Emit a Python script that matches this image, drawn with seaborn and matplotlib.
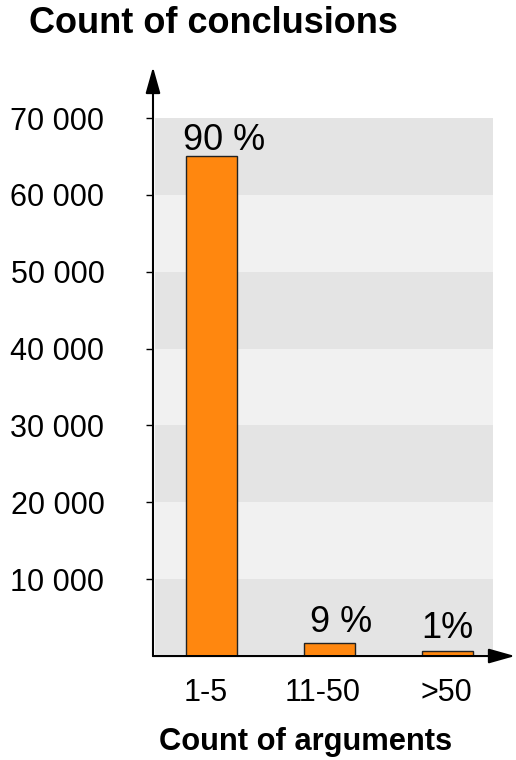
import matplotlib
matplotlib.use("Agg")
import matplotlib.pyplot as plt
import matplotlib.transforms as mtransforms
import seaborn as sns

# data
categories = ["1-5", "11-50", ">50"]
counts = [65000, 1700, 600]
shares = ["90 %", "9 %", "1%"]
y_ticks = [10000, 20000, 30000, 40000, 50000, 60000, 70000]
y_tick_labels = ["10 000", "20 000", "30 000", "40 000", "50 000", "60 000", "70 000"]

sns.set_theme(style="white")
plt.rcParams["font.family"] = ["Liberation Sans", "DejaVu Sans"]
plt.rcParams["text.color"] = "black"

fig = plt.figure(figsize=(5.16, 7.6), dpi=100)
ax = fig.add_axes([0.2965, 0.1368, 0.7015, 0.775])

# alternating grey bands behind the bars
for i in range(len(y_ticks)):
    ax.axhspan(i * 10000, (i + 1) * 10000, xmin=0.005, xmax=0.939,
               color="#e4e4e4" if i % 2 == 0 else "#f1f1f1", zorder=0.5, lw=0)

sns.barplot(x=categories, y=counts, color="#ff870f", saturation=1, width=0.43,
            edgecolor="#222222", linewidth=1, ax=ax, zorder=2)

# percentage labels above bars (offsets in points)
label_offsets = [(9, 5), (8, 8), (0, 10)]
for i, (v, s) in enumerate(zip(counts, shares)):
    ax.annotate(s, xy=(i, v), xytext=label_offsets[i],
                textcoords="offset points", ha="center", va="baseline",
                fontsize=26, color="black")

ax.set_xlim(-0.496, 2.572)
ax.set_ylim(0, 76640)
ax.set_yticks(y_ticks)
ax.set_yticklabels(y_tick_labels)
ax.set_xlabel("")
ax.set_ylabel("")
for sp in ax.spines.values():
    sp.set_visible(False)
ax.tick_params(axis="y", which="major", left=True, length=5, width=1,
               color="black", labelsize=22, pad=30, labelcolor="black")
ax.tick_params(axis="x", length=0, labelsize=22, pad=15.5, labelcolor="black")

# small horizontal nudges of the category labels, in pixels
for lbl, dx in zip(ax.get_xticklabels(), [-6, -6.5, -1]):
    lbl.set_transform(lbl.get_transform()
                      + mtransforms.ScaledTranslation(dx / 100, 0, fig.dpi_scale_trans))

# axis arrows
arrow = dict(arrowstyle="-|>,head_length=1.6,head_width=0.45", lw=1.5,
             color="black", shrinkA=0, shrinkB=0, mutation_scale=10)
ax.annotate("", xy=(0, 1), xytext=(0, 0), xycoords="axes fraction",
            arrowprops=arrow, annotation_clip=False)
ax.annotate("", xy=(1, 0), xytext=(0, 0), xycoords="axes fraction",
            arrowprops=arrow, annotation_clip=False)

fig.text(29 / 516, 1 - 33 / 760, "Count of conclusions", fontsize=26,
         fontweight="bold", ha="left", va="baseline", color="black")
fig.text(306 / 516, 1 - 750 / 760, "Count of arguments", fontsize=22.2,
         fontweight="bold", ha="center", va="baseline", color="black")

fig.savefig("out.png", dpi=100)
